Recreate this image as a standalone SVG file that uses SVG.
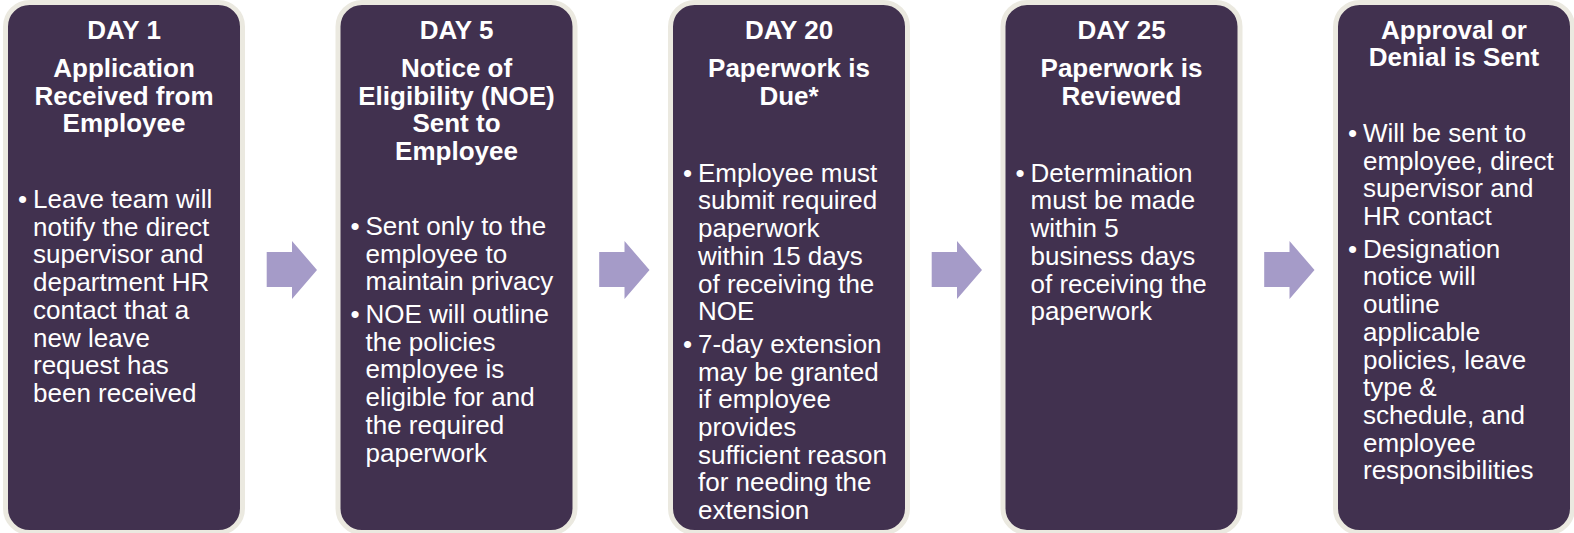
<svg xmlns="http://www.w3.org/2000/svg" width="1574" height="533" viewBox="0 0 1574 533">
<style>
.box{fill:#41314F;stroke:#EBE9E0;stroke-width:5}
.h{font-family:"Liberation Sans",Arial,sans-serif;font-weight:bold;font-size:26px;fill:#FFFFFF;text-anchor:middle}
.b{font-family:"Liberation Sans",Arial,sans-serif;font-size:26px;fill:#FFFFFF}
.arr{fill:#A59BC8}
</style>
<rect width="1574" height="533" fill="#FFFFFF"/>
<g id="connectors">
<path class="arr" d="M266.7 252 H292 V241 L317 270 L292 299 V287 H266.7 Z"/>
<path class="arr" transform="translate(332.5 0)" d="M266.7 252 H292 V241 L317 270 L292 299 V287 H266.7 Z"/>
<path class="arr" transform="translate(665 0)" d="M266.7 252 H292 V241 L317 270 L292 299 V287 H266.7 Z"/>
<path class="arr" transform="translate(997.5 0)" d="M266.7 252 H292 V241 L317 270 L292 299 V287 H266.7 Z"/>
</g>
<g id="node1">
<rect class="box" x="5.5" y="2.5" width="237" height="530" rx="24"/>
<text class="h" x="124" y="38.5">DAY 1</text>
<text class="h" x="124" y="77">Application</text>
<text class="h" x="124" y="104.7">Received from</text>
<text class="h" x="124" y="132.4">Employee</text>
<text class="b" x="18" y="208">•</text>
<text class="b" x="33" y="208">Leave team will</text>
<text class="b" x="33" y="235.7">notify the direct</text>
<text class="b" x="33" y="263.4">supervisor and</text>
<text class="b" x="33" y="291.1">department HR</text>
<text class="b" x="33" y="318.8">contact that a</text>
<text class="b" x="33" y="346.5">new leave</text>
<text class="b" x="33" y="374.2">request has</text>
<text class="b" x="33" y="401.9">been received</text>
</g>
<g id="node2">
<rect class="box" x="338" y="2.5" width="237" height="530" rx="24"/>
<text class="h" x="456.5" y="38.5">DAY 5</text>
<text class="h" x="456.5" y="77">Notice of</text>
<text class="h" x="456.5" y="104.7">Eligibility (NOE)</text>
<text class="h" x="456.5" y="132.4">Sent to</text>
<text class="h" x="456.5" y="160.1">Employee</text>
<text class="b" x="350.5" y="235">•</text>
<text class="b" x="365.5" y="235">Sent only to the</text>
<text class="b" x="365.5" y="262.7">employee to</text>
<text class="b" x="365.5" y="290.4">maintain privacy</text>
<text class="b" x="350.5" y="323">•</text>
<text class="b" x="365.5" y="323">NOE will outline</text>
<text class="b" x="365.5" y="350.7">the policies</text>
<text class="b" x="365.5" y="378.4">employee is</text>
<text class="b" x="365.5" y="406.1">eligible for and</text>
<text class="b" x="365.5" y="433.8">the required</text>
<text class="b" x="365.5" y="461.5">paperwork</text>
</g>
<g id="node3">
<rect class="box" x="670.5" y="2.5" width="237" height="530" rx="24"/>
<text class="h" x="789" y="38.5">DAY 20</text>
<text class="h" x="789" y="77">Paperwork is</text>
<text class="h" x="789" y="104.7">Due*</text>
<text class="b" x="683" y="181.7">•</text>
<text class="b" x="698" y="181.7">Employee must</text>
<text class="b" x="698" y="209.4">submit required</text>
<text class="b" x="698" y="237.1">paperwork</text>
<text class="b" x="698" y="264.8">within 15 days</text>
<text class="b" x="698" y="292.5">of receiving the</text>
<text class="b" x="698" y="320.2">NOE</text>
<text class="b" x="683" y="352.8">•</text>
<text class="b" x="698" y="352.8">7-day extension</text>
<text class="b" x="698" y="380.5">may be granted</text>
<text class="b" x="698" y="408.2">if employee</text>
<text class="b" x="698" y="435.9">provides</text>
<text class="b" x="698" y="463.6">sufficient reason</text>
<text class="b" x="698" y="491.3">for needing the</text>
<text class="b" x="698" y="519">extension</text>
</g>
<g id="node4">
<rect class="box" x="1003" y="2.5" width="237" height="530" rx="24"/>
<text class="h" x="1121.5" y="38.5">DAY 25</text>
<text class="h" x="1121.5" y="77">Paperwork is</text>
<text class="h" x="1121.5" y="104.7">Reviewed</text>
<text class="b" x="1015.5" y="181.7">•</text>
<text class="b" x="1030.5" y="181.7">Determination</text>
<text class="b" x="1030.5" y="209.4">must be made</text>
<text class="b" x="1030.5" y="237.1">within 5</text>
<text class="b" x="1030.5" y="264.8">business days</text>
<text class="b" x="1030.5" y="292.5">of receiving the</text>
<text class="b" x="1030.5" y="320.2">paperwork</text>
</g>
<g id="node5">
<rect class="box" x="1335.5" y="2.5" width="237" height="530" rx="24"/>
<text class="h" x="1454" y="38.5">Approval or</text>
<text class="h" x="1454" y="66.2">Denial is Sent</text>
<text class="b" x="1348" y="142">•</text>
<text class="b" x="1363" y="142">Will be sent to</text>
<text class="b" x="1363" y="169.7">employee, direct</text>
<text class="b" x="1363" y="197.4">supervisor and</text>
<text class="b" x="1363" y="225.1">HR contact</text>
<text class="b" x="1348" y="257.7">•</text>
<text class="b" x="1363" y="257.7">Designation</text>
<text class="b" x="1363" y="285.4">notice will</text>
<text class="b" x="1363" y="313.1">outline</text>
<text class="b" x="1363" y="340.8">applicable</text>
<text class="b" x="1363" y="368.5">policies, leave</text>
<text class="b" x="1363" y="396.2">type &amp;</text>
<text class="b" x="1363" y="423.9">schedule, and</text>
<text class="b" x="1363" y="451.6">employee</text>
<text class="b" x="1363" y="479.3">responsibilities</text>
</g>
</svg>
